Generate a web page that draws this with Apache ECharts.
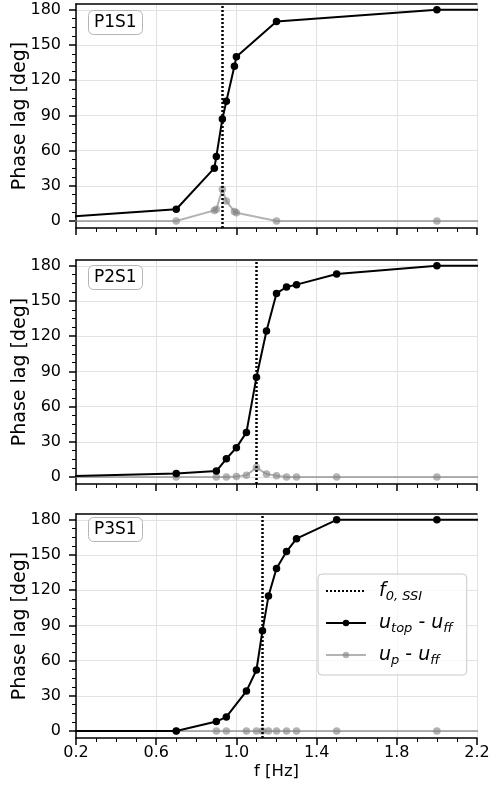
<!DOCTYPE html>
<html><head><meta charset="utf-8">
<script src="https://cdn.jsdelivr.net/npm/echarts@6/dist/echarts.min.js"></script>
<style>html,body{margin:0;padding:0;background:#fff}#c{width:493px;height:789px}</style>
</head><body><div id="c"></div>
<script>
// ---------- data ----------
const panelNames = ['P1S1', 'P2S1', 'P3S1'];
const f0SSI = [0.93, 1.10, 1.13];

const freq1 = [0.1, 0.7, 0.89, 0.9, 0.93, 0.95, 0.99, 1.0, 1.2, 2.0, 2.5];
const uTop1 = [2.8, 10, 45, 55, 87, 102, 132, 140, 170, 180, 180];
const uP1   = [0, 0, 9, 10, 27, 17, 8, 7, 0, 0, 0];

const freq2 = [0.1, 0.7, 0.9, 0.95, 1.0, 1.05, 1.1, 1.15, 1.2, 1.25, 1.3, 1.5, 2.0, 2.5];
const uTop2 = [0.4, 3, 5, 15.5, 25, 38, 85, 124.5, 156.5, 162, 164, 173, 180, 180];
const uP2   = [0, 0, 0, 0, 0.5, 1.5, 8, 2.5, 1, 0, 0, 0, 0, 0];

const freq3 = [0.1, 0.7, 0.9, 0.95, 1.05, 1.1, 1.13, 1.16, 1.2, 1.25, 1.3, 1.5, 2.0, 2.5];
const uTop3 = [0, 0, 8, 12, 34, 52, 85.5, 115, 138.5, 153, 164, 180, 180, 180];
const uP3   = [0, 0, 0, 0, 0, 0, 0, 0, 0, 0, 0, 0, 0, 0];

const yTickValues = [0, 30, 60, 90, 120, 150, 180];
const xRange = [0.2, 2.2];
const xStep = 0.4;
const yRange = [-6, 185];

// ---------- build ----------
const panels = [
  {f: freq1, top: uTop1, p: uP1},
  {f: freq2, top: uTop2, p: uP2},
  {f: freq3, top: uTop3, p: uP3}
];
const FONT = 'DejaVu Sans';
const gridTops = [4, 260, 514];
const labelTops = [10, 265, 517];
const zip = (a, b) => a.map((v, i) => [v, b[i]]);

const grid = [], xAxis = [], yAxis = [], series = [], title = [];
panels.forEach((pn, i) => {
  grid.push({left: 76, top: gridTops[i], width: 401, height: 224, containLabel: false, outerBoundsMode: 'none'});
  const last = i === 2;
  xAxis.push({
    type: 'value', gridIndex: i, min: xRange[0], max: xRange[1], interval: xStep,
    axisLine: {show: true, onZero: false, lineStyle: {color: '#000', width: 1.5}},
    axisTick: {show: true, length: 7, lineStyle: {color: '#000', width: 1.5}},
    minorTick: {show: true, splitNumber: 4, length: 4, lineStyle: {color: '#000', width: 1}},
    splitLine: {show: true, lineStyle: {color: '#e2e2e2', width: 1}},
    axisLabel: {show: last, fontSize: 16, fontFamily: FONT, color: '#000', margin: 7,
      formatter: v => v.toFixed(1)},
    name: last ? 'f [Hz]' : '', nameLocation: 'middle', nameGap: 25, nameMoveOverlap: false,
    nameTextStyle: {fontSize: 16.5, fontFamily: FONT, color: '#000'}
  });
  xAxis.push({
    type: 'value', gridIndex: i, position: 'top', min: xRange[0], max: xRange[1], interval: xStep,
    axisLine: {show: true, onZero: false, lineStyle: {color: '#000', width: 1.5}},
    axisTick: {show: false}, axisLabel: {show: false}, splitLine: {show: false}
  });
  yAxis.push({
    type: 'value', gridIndex: i, min: yRange[0], max: yRange[1],
    axisLine: {show: true, onZero: false, lineStyle: {color: '#000', width: 1.5}},
    axisTick: {show: true, length: 7, customValues: yTickValues, lineStyle: {color: '#000', width: 1.5}},
    minorTick: {show: true, splitNumber: 4, length: 4, lineStyle: {color: '#000', width: 1}},
    axisLabel: {customValues: yTickValues, fontSize: 16, fontFamily: FONT, color: '#000', margin: 15},
    splitLine: {show: true, lineStyle: {color: '#e2e2e2', width: 1}},
    name: 'Phase lag [deg]', nameLocation: 'middle', nameGap: 46, nameMoveOverlap: false,
    nameTextStyle: {fontSize: 19, fontFamily: FONT, color: '#000'}
  });
  series.push({
    name: 'f0', type: 'line', xAxisIndex: 2 * i, yAxisIndex: i, data: [], symbol: 'none',
    lineStyle: {color: '#000', width: 2.5, type: [2, 2]},
    itemStyle: {color: '#000', opacity: 0},
    markLine: {silent: true, symbol: ['none', 'none'], label: {show: false},
      lineStyle: {color: '#000', width: 2.5, type: [2, 2], opacity: 1},
      data: [{xAxis: f0SSI[i]}], animation: false},
    z: 2
  });
  series.push({
    name: 'up', type: 'line', xAxisIndex: 2 * i, yAxisIndex: i, data: zip(pn.f, pn.p),
    symbol: 'circle', symbolSize: 7.5, showAllSymbol: true,
    lineStyle: {color: 'rgba(128,128,128,0.6)', width: 2},
    itemStyle: {color: 'rgba(128,128,128,0.6)'}, z: 3
  });
  series.push({
    name: 'utop', type: 'line', xAxisIndex: 2 * i, yAxisIndex: i, data: zip(pn.f, pn.top),
    symbol: 'circle', symbolSize: 7.5, showAllSymbol: true,
    lineStyle: {color: '#000', width: 2}, itemStyle: {color: '#000'}, z: 4
  });
  title.push({
    text: panelNames[i], left: 88, top: labelTops[i],
    padding: [4, 6, 4, 6], borderColor: '#b5b5b5', borderWidth: 1, borderRadius: 5,
    backgroundColor: 'rgba(255,255,255,0.8)',
    textStyle: {fontSize: 17, fontFamily: FONT, fontWeight: 'normal', color: '#000'}
  });
});

const legendText = {
  f0: '{sp|}{i|f}{s|0, SSI}',
  utop: '{sp|}{i|u}{s|top}{n| - }{i|u}{s|ff}',
  up: '{sp|}{i|u}{s|p}{n| - }{i|u}{s|ff}'
};

const option = {
  animation: false,
  backgroundColor: '#fff',
  title, grid, xAxis, yAxis, series,
  legend: {
    data: [{name: 'f0', itemStyle: {opacity: 0}}, 'utop', 'up'],
    orient: 'vertical', left: 318, top: 574,
    padding: [5, 14, 8, 7], itemWidth: 40, itemHeight: 8, itemGap: 8,
    backgroundColor: 'rgba(255,255,255,0.8)', borderColor: '#c8c8c8', borderWidth: 1, borderRadius: 4,
    selectedMode: false,
    formatter: n => legendText[n],
    textStyle: {
      color: '#000', fontFamily: FONT, lineHeight: 24,
      rich: {
        sp: {width: 8},
        i: {fontStyle: 'italic', fontSize: 19, fontFamily: FONT, color: '#000', lineHeight: 24},
        s: {fontStyle: 'italic', fontSize: 13, fontFamily: FONT, color: '#000', verticalAlign: 'bottom', lineHeight: 18},
        n: {fontSize: 19, fontFamily: FONT, color: '#000', lineHeight: 24}
      }
    }
  }
};

const chart = echarts.init(document.getElementById('c'), null, {renderer: 'canvas'});
chart.setOption(option);
</script>
</body></html>
